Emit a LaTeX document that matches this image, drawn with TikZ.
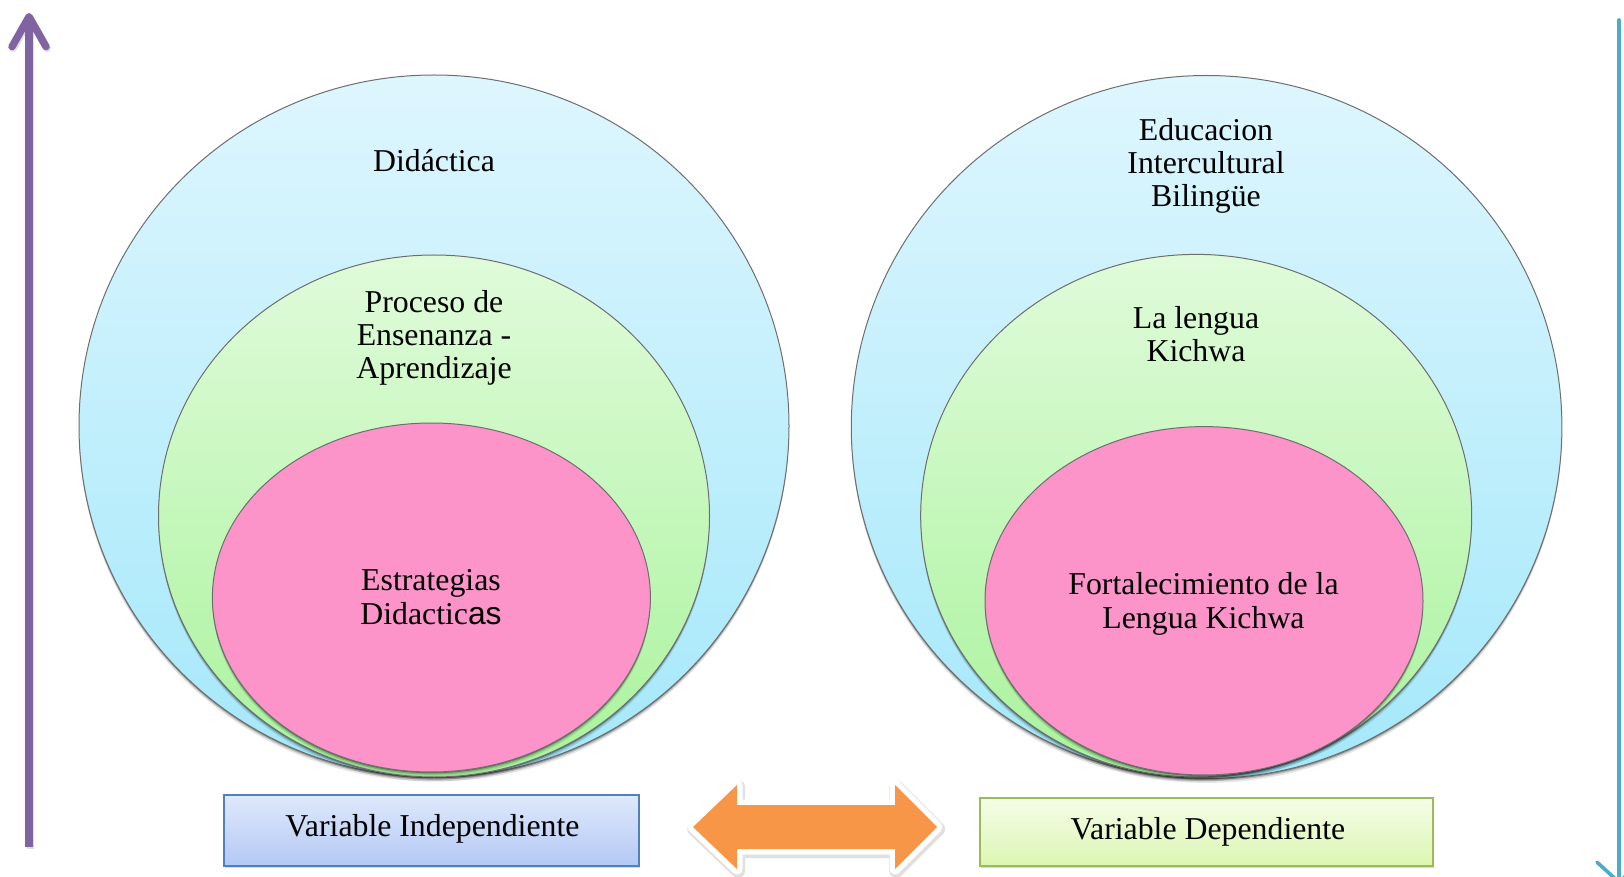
\documentclass[tikz,border=0pt]{standalone}
\usepackage{fontspec}
\setmainfont{Liberation Serif}
\newfontfamily\arialfont{Liberation Sans}
\usetikzlibrary{shapes.geometric,shadows,arrows.meta}
\definecolor{bluetop}{HTML}{DEF6FE}
\definecolor{bluebot}{HTML}{A4E8FA}
\definecolor{greentop}{HTML}{E0FBDA}
\definecolor{greenbot}{HTML}{A9F39C}
\definecolor{pinkfill}{HTML}{FC94C9}
\definecolor{ellline}{HTML}{6E6E6E}
\definecolor{purplearr}{HTML}{8064A2}
\definecolor{tealarr}{HTML}{4BACC6}
\definecolor{orangearr}{HTML}{F79646}
\definecolor{lboxtop}{HTML}{DFE9FC}
\definecolor{lboxbot}{HTML}{B3C8F4}
\definecolor{lboxline}{HTML}{4F81BD}
\definecolor{rboxtop}{HTML}{F5FDE8}
\definecolor{rboxbot}{HTML}{DCF6B2}
\definecolor{rboxline}{HTML}{9BBB59}
\tikzset{
  softshadow/.style={
    general shadow={fill=black, fill opacity=0.10, shadow yshift=-2.2pt},
    general shadow={fill=black, fill opacity=0.18, shadow yshift=-1.3pt},
    general shadow={fill=black, fill opacity=0.30, shadow yshift=-0.6pt}},
  ell/.style={ellipse, inner sep=0pt, draw=ellline, line width=0.5pt, softshadow},
  blueell/.style={ell, top color=bluetop, bottom color=bluebot},
  greenell/.style={ell, top color=greentop, bottom color=greenbot},
  pinkell/.style={ell, fill=pinkfill},
  txt/.style={font=\fontsize{15.9pt}{16.6pt}\selectfont, align=center, inner sep=0pt, text=black},
  varbox/.style={rectangle, inner sep=0pt, line width=1pt,
    general shadow={fill=black, fill opacity=0.15, shadow yshift=-1pt, shadow xshift=0.5pt}},
}
\begin{document}
\begin{tikzpicture}[x=0.5pt,y=-0.5pt]
\useasboundingbox (0,0) rectangle (1624,877);
\clip (0,0) rectangle (1624,877);
\fill[white] (0,0) rectangle (1624,877);

% left vertical arrow
\coordinate (pbot) at (29,847);
\coordinate (ptop) at (29,13);
\draw[black!25, line width=3.7pt, opacity=0.5, transform canvas={xshift=0.6pt,yshift=-0.8pt},
  -{Straight Barb[round,length=15pt,width=17pt]}] (pbot) -- (ptop);
\draw[purplearr, line width=3.7pt,
  -{Straight Barb[round,length=15pt,width=17pt]}] (pbot) -- (ptop);

% right vertical arrow
\coordinate (ttop) at (1619,20);
\coordinate (tbot) at (1619,884);
\draw[tealarr, line width=1.8pt, line cap=round,
  -{Straight Barb[round,length=10pt,width=22pt]}] (ttop) -- (tbot);

% left group
\node[blueell, minimum width=355pt, minimum height=351pt] (lblue) at (434,426) {};
\node[greenell, minimum width=275.5pt, minimum height=261pt] (lgreen) at (434,516) {};
\node[pinkell, minimum width=219pt, minimum height=174.5pt] (lpink) at (431.4,597.5) {};

% right group
\node[blueell, minimum width=355.3pt, minimum height=351.5pt] (rblue) at (1206.6,427) {};
\node[greenell, minimum width=275.5pt, minimum height=261.3pt] (rgreen) at (1196.2,515.7) {};
\node[pinkell, minimum width=219pt, minimum height=174.2pt] (rpink) at (1204,600.8) {};

% texts in ellipses (anchor=base is the baseline of the last line)
\node[txt, anchor=base] (t1) at (434,172) {Didáctica};
\node[txt, anchor=base] (t2) at (434,379) {Proceso de\\Ensenanza -\\Aprendizaje};
\node[txt, anchor=base] (t3) at (431,624) {Estrategias\\Didactic{\arialfont as}};
\node[txt, anchor=base] (t4) at (1206,206.5) {Educacion\\Intercultural\\Bilingüe};
\node[txt, anchor=base] (t5) at (1196,362) {La lengua\\Kichwa};
\node[txt, anchor=base] (t6) at (1203.5,628) {Fortalecimiento de la\\Lengua Kichwa};

% variable boxes
\node[varbox, draw=lboxline, top color=lboxtop, bottom color=lboxbot,
  minimum width=207.5pt, minimum height=35.5pt] (lbox) at (431.5,830.5) {};
\node[varbox, draw=rboxline, top color=rboxtop, bottom color=rboxbot,
  minimum width=226.5pt, minimum height=34.25pt] (rbox) at (1206.5,831.75) {};
\node[txt, anchor=base] (t7) at (432.5,836.4) {Variable Independiente};
\node[txt, anchor=base] (t8) at (1208,839.1) {Variable Dependiente};

% orange double arrow
\fill[orangearr, line join=round,
  preaction={draw=black, draw opacity=0.12, line width=7pt, line join=round, transform canvas={xshift=0.6pt,yshift=-1pt}},
  preaction={draw=white, line width=5.5pt, line join=round}]
  (693,827) -- (737,785) -- (737,805) -- (895,805) -- (895,785) -- (937,827)
  -- (895,869) -- (895,849) -- (737,849) -- (737,869) -- cycle;
\end{tikzpicture}
\end{document}
